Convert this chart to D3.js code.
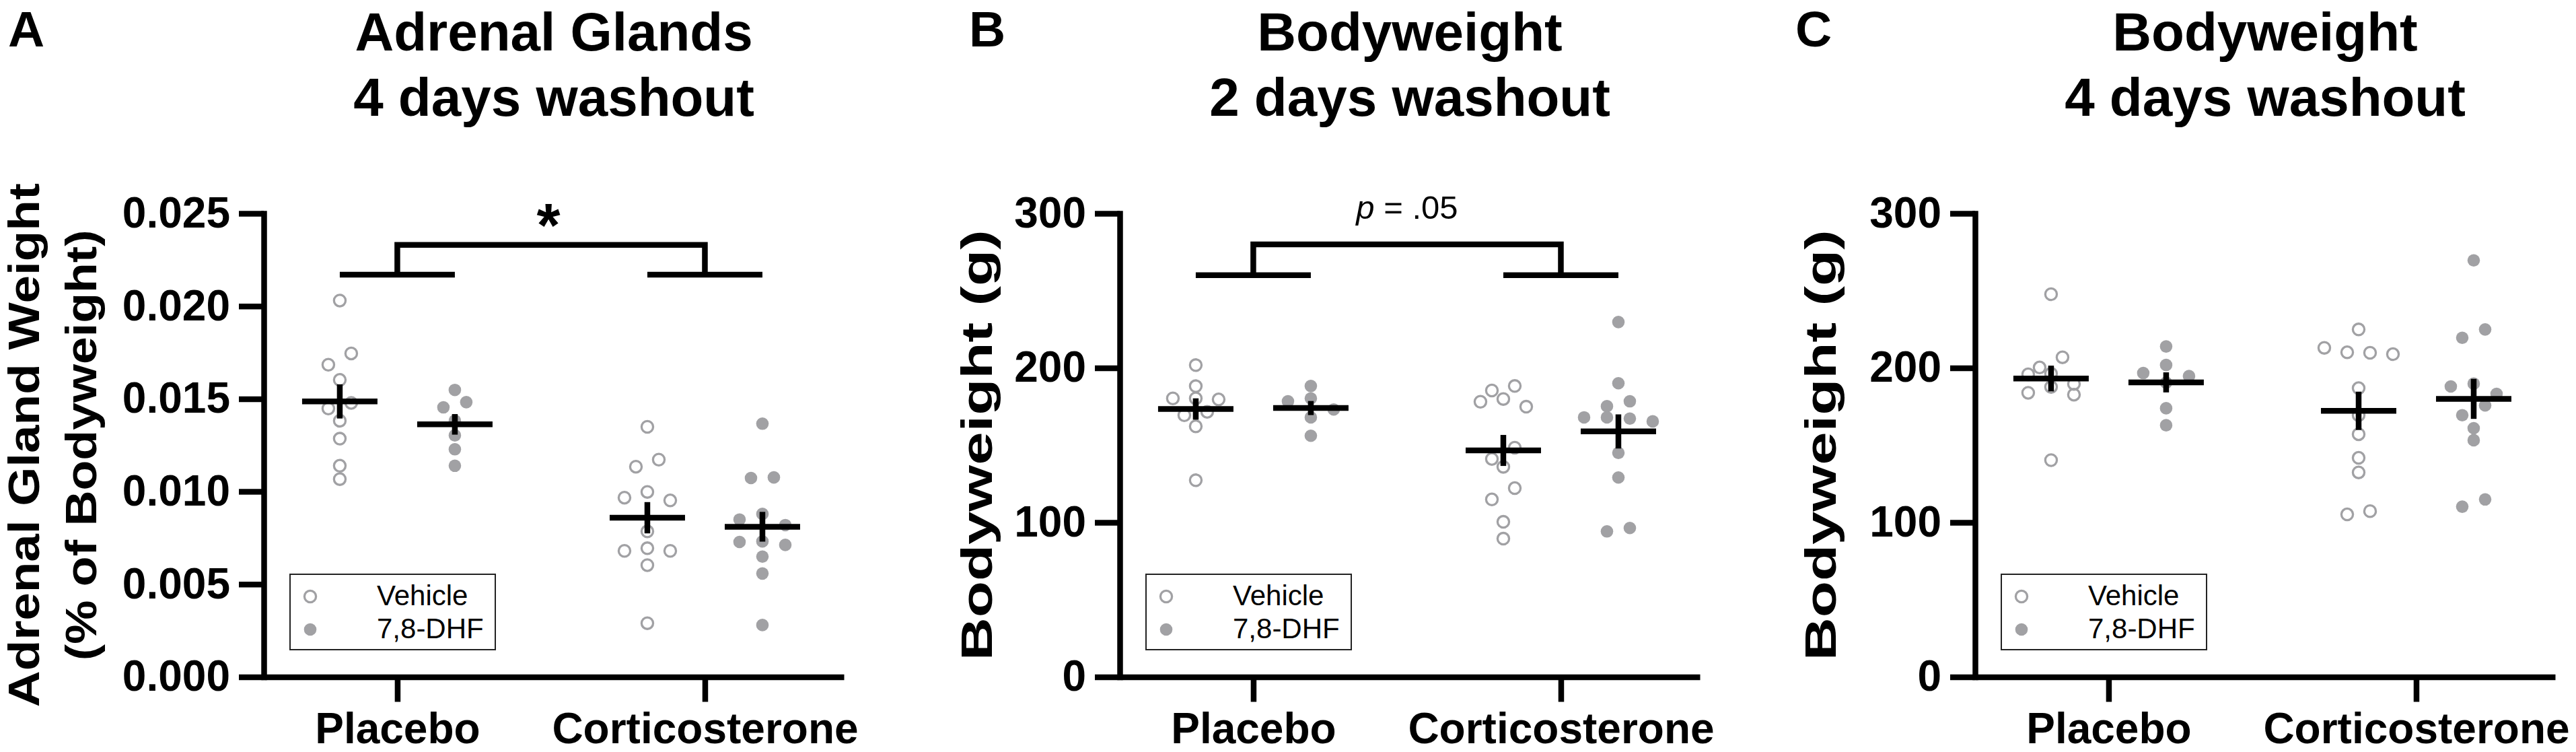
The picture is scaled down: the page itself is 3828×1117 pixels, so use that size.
<!DOCTYPE html>
<html>
<head>
<meta charset="utf-8">
<script src="https://cdn.jsdelivr.net/npm/d3@7"></script>
<style>
  body { margin: 0; background: #fff; }
</style>
</head>
<body>
<script>
// ---- data ----
const groups = ["Placebo", "Corticosterone"];
const treatments = ["Vehicle", "7,8-DHF"];

// A: adrenal gland weight (% of bodyweight), 4 days washout
const adrenalPlaceboVehicle = [0.0203, 0.01745, 0.01684, 0.01602, 0.01478, 0.01448, 0.01382, 0.01285, 0.01139, 0.01067];
const adrenalPlaceboDHF = [0.01548, 0.01482, 0.01454, 0.01382, 0.01303, 0.01228, 0.01139];
const adrenalCortVehicle = [0.01349, 0.01172, 0.01134, 0.00998, 0.00967, 0.00952, 0.00785, 0.00694, 0.0068, 0.0068, 0.00603, 0.0029];
const adrenalCortDHF = [0.01366, 0.01076, 0.01073, 0.00879, 0.00849, 0.00819, 0.00731, 0.00728, 0.00712, 0.00649, 0.00558, 0.0028];
const adrenalTicks = [0, 0.005, 0.010, 0.015, 0.020, 0.025];
const adrenalBracket = [0.0217, 0.0233];

// B: bodyweight (g), 2 days washout
const bw2PlaceboVehicle = [201.8, 188.2, 180.3, 180.3, 179.6, 171.6, 169.4, 162.2, 127.3];
const bw2PlaceboDHF = [188.3, 180.3, 178.4, 173.1, 168.0, 156.1];
const bw2CortVehicle = [188.3, 185.4, 179.9, 178.1, 174.9, 148.4, 141.1, 136.0, 122.2, 114.9, 100.4, 89.5];
const bw2CortDHF = [229.7, 190.1, 178.4, 175.2, 168.0, 168.0, 167.2, 165.4, 145.0, 129.1, 96.4, 94.2];
const bw2Bracket = [260, 280];

// C: bodyweight (g), 4 days washout
const bw4PlaceboVehicle = [247.7, 206.9, 200.3, 196.3, 195.9, 189.7, 187.7, 183.9, 182.7, 140.3];
const bw4PlaceboDHF = [213.9, 201.9, 196.7, 194.7, 190.5, 173.9, 162.9];
const bw4CortVehicle = [224.9, 213.0, 210.1, 209.8, 208.9, 186.9, 169.4, 157.1, 141.8, 132.4, 107.3, 105.2];
const bw4CortDHF = [269.6, 224.9, 219.5, 189.8, 188.0, 183.2, 175.7, 169.4, 161.0, 153.2, 114.9, 110.2];

const bodyTicks = [0, 100, 200, 300];

// ---- layout ----
const W = 3828, H = 1117;
const FONT = "'Liberation Sans', Arial, Helvetica, sans-serif";
const plotTop = 317, plotBottom = 1005.5, plotW = 862;
const LW = 8.5;
const dotGray = "#a1a1a4";

const panels = [
  { letter: "A", letterX: 12, x0: 392, title: ["Adrenal Glands", "4 days washout"],
    ylabel: [{ text: "Adrenal Gland Weight", x: 58, len: 778 }, { text: "(% of Bodyweight)", x: 143, len: 640 }],
    yMax: 0.025, ticks: adrenalTicks, fmt: ".3f",
    values: [[adrenalPlaceboVehicle, adrenalPlaceboDHF], [adrenalCortVehicle, adrenalCortDHF]],
    bracket: adrenalBracket, note: "star" },
  { letter: "B", letterX: 1440, x0: 1664, title: ["Bodyweight", "2 days washout"],
    ylabel: [{ text: "Bodyweight (g)", x: 1474, len: 640 }],
    yMax: 300, ticks: bodyTicks, fmt: "d",
    values: [[bw2PlaceboVehicle, bw2PlaceboDHF], [bw2CortVehicle, bw2CortDHF]],
    bracket: bw2Bracket, note: "p" },
  { letter: "C", letterX: 2668, x0: 2935, title: ["Bodyweight", "4 days washout"],
    ylabel: [{ text: "Bodyweight (g)", x: 2728, len: 640 }],
    yMax: 300, ticks: bodyTicks, fmt: "d",
    values: [[bw4PlaceboVehicle, bw4PlaceboDHF], [bw4CortVehicle, bw4CortDHF]],
    bracket: null, note: null }
];

const svg = d3.select("body").append("svg")
    .attr("width", W)
    .attr("height", H)
    .attr("font-family", FONT);

// rows of nearby values are spread sideways, like a scatter dot plot
function dodge(values, y, spacing, binPx) {
  const pts = values.map(v => ({ v, py: y(v) })).sort((a, b) => a.py - b.py);
  const rows = [];
  let cur = null;
  pts.forEach(p => {
    if (!cur || p.py - cur[0].py > binPx) { cur = [p]; rows.push(cur); }
    else cur.push(p);
  });
  rows.forEach(row => {
    const n = row.length;
    let offs;
    if (n === 1) offs = [0];
    else if (n === 2) offs = [spacing / 2, -spacing / 2];
    else if (n === 3) offs = [0, -spacing, spacing];
    else offs = row.map((_, i) => (i - (n - 1) / 2) * spacing);
    row.forEach((p, i) => p.dx = offs[i]);
  });
  return pts;
}

panels.forEach(p => {
  const g = svg.append("g");

  const x = d3.scalePoint()
      .domain(groups)
      .range([p.x0, p.x0 + plotW])
      .padding(0.443)
      .align(0.49);
  const sub = d3.scalePoint()
      .domain(treatments)
      .range([-85.5, 85.5]);
  const y = d3.scaleLinear()
      .domain([0, p.yMax])
      .range([plotBottom, plotTop]);

  // panel letter and title
  g.append("text")
      .attr("x", p.letterX)
      .attr("y", 69)
      .attr("font-size", 75)
      .attr("font-weight", "bold")
      .text(p.letter);

  g.append("text")
      .attr("text-anchor", "middle")
      .attr("font-size", 80)
      .attr("font-weight", "bold")
    .selectAll("tspan")
    .data(p.title)
    .join("tspan")
      .attr("x", p.x0 + plotW / 2)
      .attr("y", (d, i) => 75 + i * 97)
      .text(d => d);

  // y label
  p.ylabel.forEach(l => {
    g.append("text")
        .attr("transform", `translate(${l.x},${(plotTop + plotBottom) / 2}) rotate(-90)`)
        .attr("text-anchor", "middle")
        .attr("font-size", 64)
        .attr("font-weight", "bold")
        .attr("textLength", l.len)
        .attr("lengthAdjust", "spacingAndGlyphs")
        .text(l.text);
  });

  // axes
  g.append("g")
      .attr("transform", `translate(${p.x0},0)`)
      .call(d3.axisLeft(y).tickValues(p.ticks).tickFormat(d3.format(p.fmt))
          .tickSize(37).tickSizeOuter(0).tickPadding(13))
      .call(a => a.select(".domain").attr("stroke-width", LW).attr("stroke-linecap", "square"))
      .call(a => a.selectAll(".tick line").attr("stroke-width", LW))
      .call(a => a.selectAll(".tick text")
          .attr("font-size", 64).attr("font-weight", "bold").attr("font-family", FONT).attr("fill", "#000"));

  g.append("g")
      .attr("transform", `translate(0,${plotBottom})`)
      .call(d3.axisBottom(x).tickSize(37).tickSizeOuter(0).tickPadding(16))
      .call(a => a.select(".domain").attr("stroke-width", LW))
      .call(a => a.selectAll(".tick line").attr("stroke-width", LW))
      .call(a => a.selectAll(".tick text")
          .attr("font-size", 64).attr("font-weight", "bold").attr("font-family", FONT).attr("fill", "#000"));

  // points, then mean ± SEM on top
  groups.forEach((grp, gi) => {
    treatments.forEach((tr, ti) => {
      const vals = p.values[gi][ti];
      const cx = x(grp) + sub(tr);
      const pts = dodge(vals, y, 34, 17);
      const open = ti === 0;

      g.append("g")
        .selectAll("circle")
        .data(pts)
        .join("circle")
          .attr("cx", d => cx + d.dx)
          .attr("cy", d => d.py)
          .attr("r", open ? 8.6 : 9.3)
          .attr("fill", open ? "none" : dotGray)
          .attr("stroke", open ? dotGray : "none")
          .attr("stroke-width", open ? 3.3 : 0);

      const m = d3.mean(vals);
      const sem = d3.deviation(vals) / Math.sqrt(vals.length);
      g.append("line")
          .attr("x1", cx - 56).attr("x2", cx + 56)
          .attr("y1", y(m)).attr("y2", y(m))
          .attr("stroke", "#000").attr("stroke-width", LW);
      g.append("line")
          .attr("x1", cx).attr("x2", cx)
          .attr("y1", y(m - sem)).attr("y2", y(m + sem))
          .attr("stroke", "#000").attr("stroke-width", LW);
    });
  });

  // significance bracket
  if (p.bracket) {
    const low = y(p.bracket[0]), top = y(p.bracket[1]);
    groups.forEach(grp => {
      g.append("line")
          .attr("x1", x(grp) + sub.range()[0]).attr("x2", x(grp) + sub.range()[1])
          .attr("y1", low).attr("y2", low)
          .attr("stroke", "#000").attr("stroke-width", LW);
    });
    g.append("path")
        .attr("d", `M${x(groups[0])},${low}V${top}H${x(groups[1])}V${low}`)
        .attr("fill", "none")
        .attr("stroke", "#000")
        .attr("stroke-width", LW)
        .attr("stroke-linejoin", "miter");

    const mid = (x(groups[0]) + x(groups[1])) / 2;
    if (p.note === "star") {
      g.append("text")
          .attr("x", mid - 4)
          .attr("y", top + 2.5)
          .attr("text-anchor", "middle")
          .attr("font-size", 90)
          .attr("font-weight", "bold")
          .text("*");
    } else if (p.note === "p") {
      const t = g.append("text")
          .attr("x", mid)
          .attr("y", top - 38)
          .attr("text-anchor", "middle")
          .attr("font-size", 49);
      t.append("tspan").attr("font-style", "italic").text("p");
      t.append("tspan").text(" = .05");
    }
  }

  // legend
  const lx = p.x0 + 39, ly = 853;
  const lg = g.append("g");
  lg.append("rect")
      .attr("x", lx).attr("y", ly)
      .attr("width", 305).attr("height", 112)
      .attr("fill", "#fff")
      .attr("stroke", "#222")
      .attr("stroke-width", 2);
  treatments.forEach((tr, i) => {
    const cy = ly + 33 + i * 49;
    lg.append("circle")
        .attr("cx", lx + 30).attr("cy", cy)
        .attr("r", i === 0 ? 8.6 : 9.3)
        .attr("fill", i === 0 ? "none" : dotGray)
        .attr("stroke", i === 0 ? dotGray : "none")
        .attr("stroke-width", i === 0 ? 3.3 : 0);
    lg.append("text")
        .attr("x", lx + 129)
        .attr("y", cy + 13)
        .attr("font-size", 42)
        .text(tr);
  });
});
</script>
</body>
</html>
